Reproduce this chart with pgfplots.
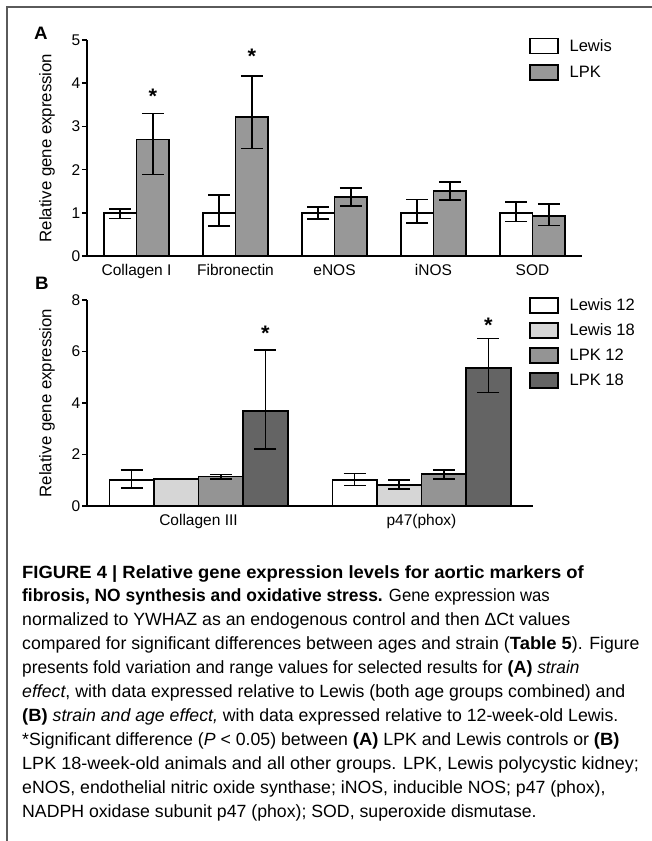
\documentclass[border=0pt]{standalone}
\usepackage{fontspec}
\setmainfont{Liberation Sans}[BoldFeatures={FakeStretch=1.04}]
\usepackage{pgfplots}
\pgfplotsset{compat=1.18}
\definecolor{gA}{RGB}{152,152,152}
\definecolor{lA}{RGB}{214,214,214}
\definecolor{kA}{RGB}{148,148,148}
\definecolor{kB}{RGB}{100,100,100}
\definecolor{frame}{RGB}{90,90,90}

\tikzset{astx/.style={font=\fontsize{21}{21}\selectfont\bfseries, anchor=center, yshift=-4pt}}
\pgfplotsset{
  myaxis/.style={
    scale only axis,
    axis lines=left,
    axis line style={line width=1.6pt, -, black},
    ymin=0,
    tick align=outside,
    ytick pos=left,
    xtick style={draw=none},
    ytick style={line width=1.6pt, black},
    major tick length=5pt,
    /pgf/number format/assume math mode=true,
    ticklabel style={font=\fontsize{15.5}{18}\selectfont},
    yticklabel style={inner sep=1.5pt},
    every axis y label/.style={at={(axis description cs:#1,0.5)}, rotate=90, anchor=center, font=\fontsize{16.8}{18}\selectfont},
    ybar,
    legend image code/.code={\draw[##1, line width=1.6pt, draw=black] (0pt,-7.5pt) rectangle (28pt,7.5pt);},
    legend cell align=left,
    legend style={draw=none, fill=none, inner sep=0pt, outer sep=0pt, font=\fontsize{16.5}{18}\selectfont, column sep=11pt, nodes={inner sep=0pt}, anchor=north west},
  },
  eb/.style={error bars/.cd, y dir=both, y explicit, error bar style={line width=1.6pt, black}, error mark options={rotate=90, mark size=11pt, line width=1.6pt, black}},
}

\begin{document}
\begin{tikzpicture}[x=1pt,y=1pt]
\useasboundingbox (0,0) rectangle (652,-841);
\draw[line width=1.2pt, frame] (7,-841) -- (7,-7) -- (652,-7);

% Panel A
\begin{axis}[myaxis=-0.0808,
  at={(87pt,-256pt)}, anchor=south west,
  width=495pt, height=216pt,
  xmin=-0.5, xmax=4.5, ymax=5,
  ytick={0,1,2,3,4,5},
  xtick={0,1,2,3,4},
  xticklabels={Collagen I, Fibronectin, eNOS, iNOS, SOD},
  bar width=0.33,
  ylabel={Relative gene expression},
  legend style={at={(0.8929,1.0106)}, row sep=10pt},
]
\addplot[fill=white, draw=black, line width=1.6pt, bar shift=-0.165, eb] coordinates {
  (0,1) += (0,0.09) -= (0,0.13)
  (1,1) += (0,0.41) -= (0,0.31)
  (2,1) += (0,0.14) -= (0,0.14)
  (3,1) += (0,0.31) -= (0,0.24)
  (4,1) += (0,0.25) -= (0,0.20)
};
\addlegendentry{Lewis}
\addplot[fill=gA, draw=black, line width=1.6pt, bar shift=0.165, eb] coordinates {
  (0,2.70) += (0,0.60) -= (0,0.81)
  (1,3.22) += (0,0.94) -= (0,0.73)
  (2,1.36) += (0,0.22) -= (0,0.20)
  (3,1.50) += (0,0.22) -= (0,0.20)
  (4,0.93) += (0,0.27) -= (0,0.22)
};
\addlegendentry{LPK}
\node[astx] at (axis cs:0.165,3.78) {*};
\node[astx] at (axis cs:1.165,4.71) {*};
\end{axis}

% Panel B
\begin{axis}[myaxis=-0.0897,
  at={(87pt,-506pt)}, anchor=south west,
  width=446pt, height=206pt,
  xmin=-0.5, xmax=1.5, ymax=8,
  ytick={0,2,4,6,8},
  xtick={0,1},
  xticklabels={Collagen III, p47(phox)},
  bar width=0.2,
  ylabel={Relative gene expression},
  legend style={at={(0.991,1.0146)}, row sep=8.5pt},
]
\addplot[fill=white, draw=black, line width=1.6pt, bar shift=-0.3, eb] coordinates {
  (0,1.01) += (0,0.39) -= (0,0.30)
  (1,1.01) += (0,0.25) -= (0,0.22)
};
\addlegendentry{Lewis 12}
\addplot[fill=lA, draw=black, line width=1.6pt, bar shift=-0.1, eb] coordinates {
  (0,1.05) += (0,0.02) -= (0,0.02)
  (1,0.82) += (0,0.19) -= (0,0.16)
};
\addlegendentry{Lewis 18}
\addplot[fill=kA, draw=black, line width=1.6pt, bar shift=0.1, eb] coordinates {
  (0,1.14) += (0,0.09) -= (0,0.08)
  (1,1.24) += (0,0.16) -= (0,0.18)
};
\addlegendentry{LPK 12}
\addplot[fill=kB, draw=black, line width=1.6pt, bar shift=0.3, eb] coordinates {
  (0,3.68) += (0,2.39) -= (0,1.47)
  (1,5.37) += (0,1.14) -= (0,0.96)
};
\addlegendentry{LPK 18}
\node[astx] at (axis cs:0.3,6.87) {*};
\node[astx] at (axis cs:1.3,7.18) {*};
\end{axis}

% Panel letters
\node[font=\bfseries\fontsize{18}{18}\selectfont] at (41,-33) {A};
\node[font=\bfseries\fontsize{18}{18}\selectfont] at (42,-283) {B};

% Caption
\begin{scope}[every node/.style={anchor=base west, inner sep=0pt, font=\fontsize{17.7}{21}\selectfont}]
\node at (22,-578.0) {\textbf{FIGURE 4 | Relative gene expression levels for aortic markers of}};
\node at (22,-601.9) {\scalebox{0.945}[1]{\textbf{fibrosis, NO synthesis and oxidative stress.} Gene expression was}};
\node at (22,-625.8) {normalized to YWHAZ as an endogenous control and then ΔCt values};
\node at (22,-649.7) {compared for significant differences between ages and strain (\textbf{Table 5}). Figure};
\node at (22,-673.6) {\scalebox{0.975}[1]{presents fold variation and range values for selected results for \textbf{(A)} \textit{strain}}};
\node at (22,-697.5) {\textit{effect}, with data expressed relative to Lewis (both age groups combined) and};
\node at (22,-721.4) {\textbf{(B)} \textit{strain and age effect,} with data expressed relative to 12-week-old Lewis.};
\node at (22,-745.3) {*Significant difference (\textit{P} < 0.05) between \textbf{(A)} LPK and Lewis controls or \textbf{(B)}};
\node at (22,-769.2) {\scalebox{1.02}[1]{LPK 18-week-old animals and all other groups. LPK, Lewis polycystic kidney;}};
\node at (22,-793.1) {eNOS, endothelial nitric oxide synthase; iNOS, inducible NOS; p47 (phox),};
\node at (22,-817.0) {NADPH oxidase subunit p47 (phox); SOD, superoxide dismutase.};
\end{scope}
\end{tikzpicture}
\end{document}
